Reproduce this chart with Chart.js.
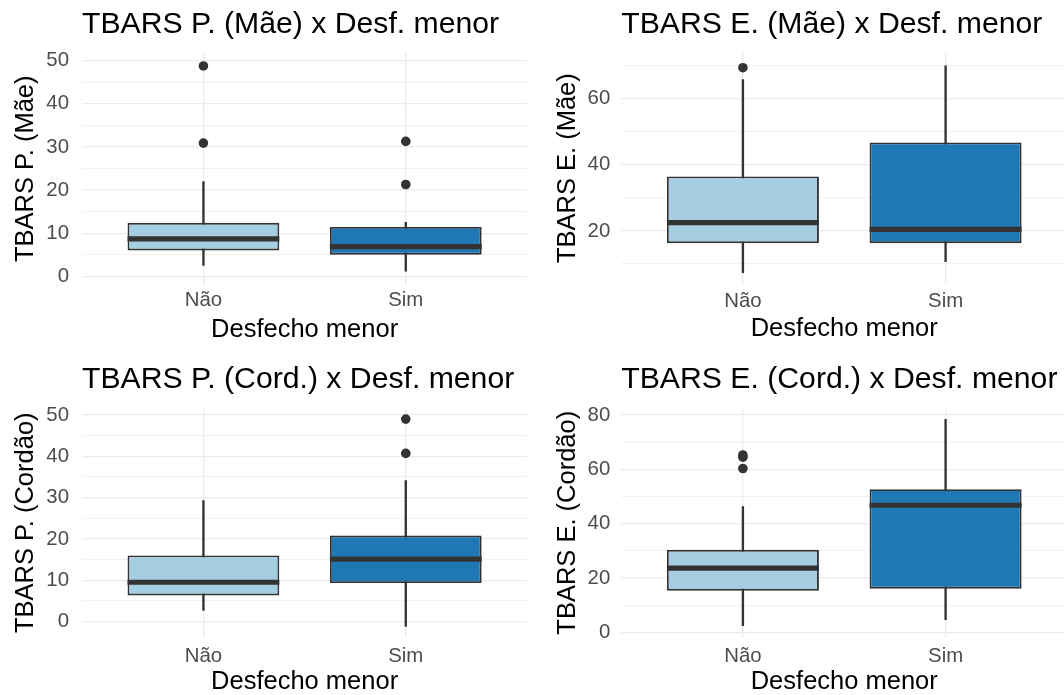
<!DOCTYPE html>
<html>
<head>
<meta charset="utf-8">
<script src="https://cdn.jsdelivr.net/npm/chart.js@4.4.0/dist/chart.umd.min.js"></script>
<style>
  html, body { margin: 0; padding: 0; background: #fff; }
  #wrap { position: relative; width: 1064px; height: 695px; overflow: hidden; }
  #wrap canvas { position: absolute; }
</style>
</head>
<body>
<div id="wrap">
  <canvas id="c1" width="532" height="347" style="left:0;top:0"></canvas>
  <canvas id="c2" width="540" height="347" style="left:532px;top:0"></canvas>
  <canvas id="c3" width="532" height="348" style="left:0;top:347px"></canvas>
  <canvas id="c4" width="540" height="348" style="left:532px;top:347px"></canvas>
</div>
<script>
/**
 * Data
 */
const categories = ['Não', 'Sim'];

// TBARS P. (Mãe)
const pMaeLower = [2.5, 1.2];
const pMaeQ1 = [6.0, 5.0];
const pMaeMedian = [8.7, 6.9];
const pMaeQ3 = [12.4, 11.45];
const pMaeUpper = [22.0, 12.5];
const pMaeOutliers = [[30.9, 48.8], [21.3, 31.3]];
const pMaeTicks = [0, 10, 20, 30, 40, 50];

// TBARS E. (Mãe)
const eMaeLower = [7.4, 10.7];
const eMaeQ1 = [16.3, 16.3];
const eMaeMedian = [22.5, 20.5];
const eMaeQ3 = [36.5, 46.8];
const eMaeUpper = [65.8, 70.0];
const eMaeOutliers = [[69.4], []];
const eMaeTicks = [20, 40, 60];

// TBARS P. (Cordão)
const pCordLower = [2.7, -1.2];
const pCordQ1 = [6.3, 9.3];
const pCordMedian = [9.5, 15.1];
const pCordQ3 = [16.0, 20.8];
const pCordUpper = [29.3, 34.1];
const pCordOutliers = [[], [40.7, 49.0]];
const pCordTicks = [0, 10, 20, 30, 40, 50];

// TBARS E. (Cordão)
const eCordLower = [2.5, 4.7];
const eCordQ1 = [15.4, 16.1];
const eCordMedian = [23.7, 46.8];
const eCordQ3 = [30.4, 52.7];
const eCordUpper = [46.3, 78.4];
const eCordOutliers = [[60.3, 64.5, 65.3], []];
const eCordTicks = [0, 20, 40, 60, 80];

/**
 * Style
 */
const BOX_COLORS = ['#A6CEE3', '#1F78B4'];
const INK = '#333333';
const GRID_COLOR = '#EBEBEB';
const TICK_COLOR = '#4D4D4D';
const FONT_FAMILY = '"Liberation Sans", Arial, Helvetica, sans-serif';
const TITLE_SIZE = 30.2;
const AXIS_TITLE_SIZE = 25.5;
const TICK_SIZE = 20.4;
const BOX_WIDTH = 0.75;

// where each plot sits inside its canvas (px) + axis limits
const LAYOUTS = {
  c1: {left: 82, right: 530.4, top: 53, bottom: 284.5, titleY: 25, yTitleX: 25.8, yTickPad: 13, xTickY: 300.7, xTitleY: 330, yMin: -1.9, yMax: 51.8},
  c2: {left: 89.3, right: 537.8, top: 53, bottom: 283.3, titleY: 25, yTitleX: 36.3, yTickPad: 11, xTickY: 301.7, xTitleY: 328.5, yMin: 4.15, yMax: 73.85},
  c3: {left: 82, right: 530.4, top: 62, bottom: 289.5, titleY: 33, yTitleX: 25.8, yTickPad: 13, xTickY: 309.7, xTitleY: 334.7, yMin: -3.63, yMax: 51.45},
  c4: {left: 89.3, right: 537.8, top: 62, bottom: 289.5, titleY: 33, yTitleX: 36.3, yTickPad: 11, xTickY: 309.3, xTitleY: 334.7, yMin: -1.47, yMax: 82.2},
};

//////////////////////////////////////////////////////////////////

/**
 * Major ticks + minor ticks half way between them
 */
function buildYTicks(majors, yMin, yMax) {
  const half = (majors[1] - majors[0]) / 2;
  const ticks = [];
  for (let v = majors[0] - half; v <= majors[majors.length - 1] + half; v += half) {
    if (v < yMin || v > yMax) continue;
    ticks.push({value: v, major: majors.indexOf(v) !== -1});
  }
  return ticks;
}

/**
 * Load one box plot
 */
function loadBoxChart(id, title, yTitle, p) {
  const L = LAYOUTS[id];
  const canvas = document.getElementById(id);
  const W = canvas.width;
  const H = canvas.height;
  const titleLh = TITLE_SIZE * 1.2;
  const axisLh = AXIS_TITLE_SIZE * 1.2;
  const tickLh = TICK_SIZE * 1.2;

  const whiskers = categories.map((c, i) => ({x: i + 1, y: [p.lower[i], p.upper[i]]}));
  const boxes = categories.map((c, i) => ({x: i + 1, y: [p.q1[i], p.q3[i]]}));
  const medians = categories.map((c, i) => ({x: i + 1, y: p.median[i]}));
  const outliers = [];
  p.outliers.forEach((vals, i) => vals.forEach(v => outliers.push({x: i + 1, y: v})));

  const config = {
    type: 'bar',
    data: {
      datasets: [
        {
          data: whiskers,
          backgroundColor: INK,
          borderWidth: 0,
          barThickness: 1.7,
          grouped: false,
          order: 4
        },
        {
          data: boxes,
          backgroundColor: BOX_COLORS,
          borderColor: INK,
          borderWidth: 1.9,
          borderSkipped: false,
          barPercentage: BOX_WIDTH,
          categoryPercentage: 1,
          grouped: false,
          order: 3
        },
        {
          type: 'scatter',
          data: medians,
          pointStyle: 'line',
          pointBorderColor: INK,
          pointBackgroundColor: INK,
          pointBorderWidth: 5.2,
          pointRadius: function (ctx) {
            const xs = ctx.chart.scales.x;
            if (!xs) return 0;
            const r = xs.getPixelForValue(1 + BOX_WIDTH / 2) - xs.getPixelForValue(1);
            return isFinite(r) ? Math.abs(r) : 0;
          },
          order: 2
        },
        {
          type: 'scatter',
          data: outliers,
          pointRadius: 4.8,
          pointBackgroundColor: INK,
          pointBorderWidth: 0,
          order: 1
        }
      ]
    },
    options: {
      responsive: false,
      maintainAspectRatio: false,
      devicePixelRatio: 1,
      animation: false,
      events: [],
      layout: {padding: {left: 0, right: W - L.right, top: 0, bottom: 0}},
      plugins: {
        legend: {display: false},
        tooltip: {enabled: false},
        title: {
          display: true,
          text: title,
          align: 'start',
          fullSize: false,
          color: '#000000',
          font: {family: FONT_FAMILY, size: TITLE_SIZE, weight: 'normal', lineHeight: 1.2},
          padding: {top: L.titleY - titleLh / 2, bottom: L.top - L.titleY - titleLh / 2}
        }
      },
      scales: {
        x: {
          type: 'linear',
          min: 0.4,
          max: 2.6,
          offset: false,
          border: {display: false},
          grid: {color: GRID_COLOR, lineWidth: 1.3, drawTicks: false, offset: false},
          afterBuildTicks: function (scale) {
            scale.ticks = categories.map((c, i) => ({value: i + 1, major: true}));
          },
          afterFit: function (scale) {
            scale.height = H - L.bottom;
          },
          ticks: {
            autoSkip: false,
            maxRotation: 0,
            color: TICK_COLOR,
            padding: L.xTickY - L.bottom - tickLh / 2,
            font: {family: FONT_FAMILY, size: TICK_SIZE, lineHeight: 1.2},
            callback: function (value) {
              return categories[value - 1];
            }
          },
          title: {
            display: true,
            text: 'Desfecho menor',
            color: '#000000',
            font: {family: FONT_FAMILY, size: AXIS_TITLE_SIZE, lineHeight: 1.2},
            padding: {top: 0, bottom: H - L.xTitleY - axisLh / 2}
          }
        },
        y: {
          type: 'linear',
          min: L.yMin,
          max: L.yMax,
          bounds: 'data',
          beginAtZero: false,
          border: {display: false},
          grid: {
            color: GRID_COLOR,
            drawTicks: false,
            lineWidth: function (ctx) {
              return ctx.tick && ctx.tick.major ? 1.3 : 0.7;
            }
          },
          afterBuildTicks: function (scale) {
            scale.ticks = buildYTicks(p.ticks, L.yMin, L.yMax);
          },
          afterFit: function (scale) {
            scale.width = L.left;
          },
          ticks: {
            autoSkip: false,
            color: TICK_COLOR,
            padding: L.yTickPad,
            font: {family: FONT_FAMILY, size: TICK_SIZE, lineHeight: 1.2},
            callback: function (value, index, ticks) {
              return ticks[index].major ? String(value) : '';
            }
          },
          title: {
            display: true,
            text: yTitle,
            color: '#000000',
            font: {family: FONT_FAMILY, size: AXIS_TITLE_SIZE, lineHeight: 1.2},
            padding: {top: L.yTitleX - axisLh / 2, bottom: 0}
          }
        }
      }
    }
  };

  new Chart(canvas, config);
}

/**
 * Document ready
 */
loadBoxChart('c1', 'TBARS P. (Mãe) x Desf. menor', 'TBARS P. (Mãe)',
  {lower: pMaeLower, q1: pMaeQ1, median: pMaeMedian, q3: pMaeQ3, upper: pMaeUpper, outliers: pMaeOutliers, ticks: pMaeTicks});
loadBoxChart('c2', 'TBARS E. (Mãe) x Desf. menor', 'TBARS E. (Mãe)',
  {lower: eMaeLower, q1: eMaeQ1, median: eMaeMedian, q3: eMaeQ3, upper: eMaeUpper, outliers: eMaeOutliers, ticks: eMaeTicks});
loadBoxChart('c3', 'TBARS P. (Cord.) x Desf. menor', 'TBARS P. (Cordão)',
  {lower: pCordLower, q1: pCordQ1, median: pCordMedian, q3: pCordQ3, upper: pCordUpper, outliers: pCordOutliers, ticks: pCordTicks});
loadBoxChart('c4', 'TBARS E. (Cord.) x Desf. menor', 'TBARS E. (Cordão)',
  {lower: eCordLower, q1: eCordQ1, median: eCordMedian, q3: eCordQ3, upper: eCordUpper, outliers: eCordOutliers, ticks: eCordTicks});
</script>
</body>
</html>
